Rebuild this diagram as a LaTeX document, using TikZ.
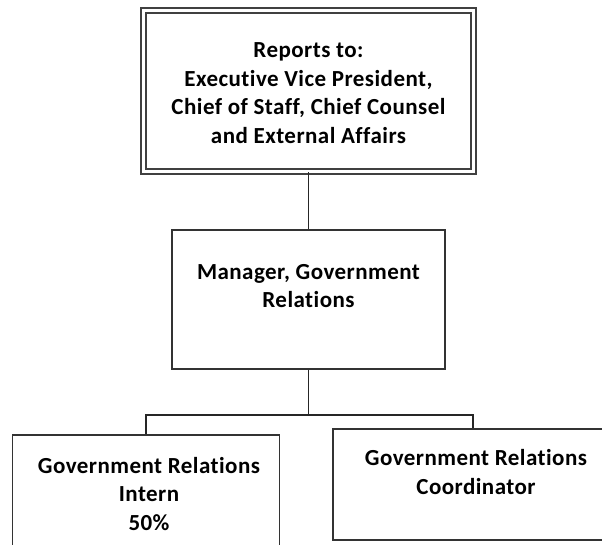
\documentclass[tikz,border=0pt]{standalone}
\usepackage{fontspec}
\setmainfont{Carlito}[Ligatures=NoCommon, LetterSpace=2]
\usepackage{tikz}
\usepackage{xcolor}

\begin{document}
\begin{tikzpicture}[x=1pt, y=-1pt, every node/.style={font=\bfseries\fontsize{23}{28.5}\selectfont, align=center, inner sep=0pt}]
\path[use as bounding box, clip] (0,0) rectangle (602,544);
\node[draw=black!75, double, double distance=3.6pt, line width=1.5pt, minimum width=330pt, minimum height=161pt] (top) at (308.5,91) {};
\node[draw=black!80, line width=1.8pt, minimum width=273pt, minimum height=139pt] (mgr) at (308.5,299.5) {};
\node[draw=black!80, line width=1.8pt, minimum width=267pt, minimum height=140pt] (intern) at (146,505) {};
\node[draw=black!80, line width=1.8pt, minimum width=280pt, minimum height=111pt] (coord) at (473,484.5) {};
\node (toptext) at (308.5,93) {Reports to:\\Executive Vice President,\\Chief of Staff, Chief Counsel\\and External Affairs};
\node (mgrtext) at (308.5,286) {Manager, Government\\Relations};
\node (interntext) at (149,494) {Government Relations\\Intern\\50\%};
\node (coordtext) at (476,472) {Government Relations\\Coordinator};
\coordinate (bus) at (308.5,415);
\draw[-, line width=1.8pt, black!85] (top) -- (mgr); \draw[-, line width=1.8pt, black!85] (mgr) -- (bus) -| (intern); \draw[-, line width=1.8pt, black!85] (bus) -| (coord);
\end{tikzpicture}
\end{document}
